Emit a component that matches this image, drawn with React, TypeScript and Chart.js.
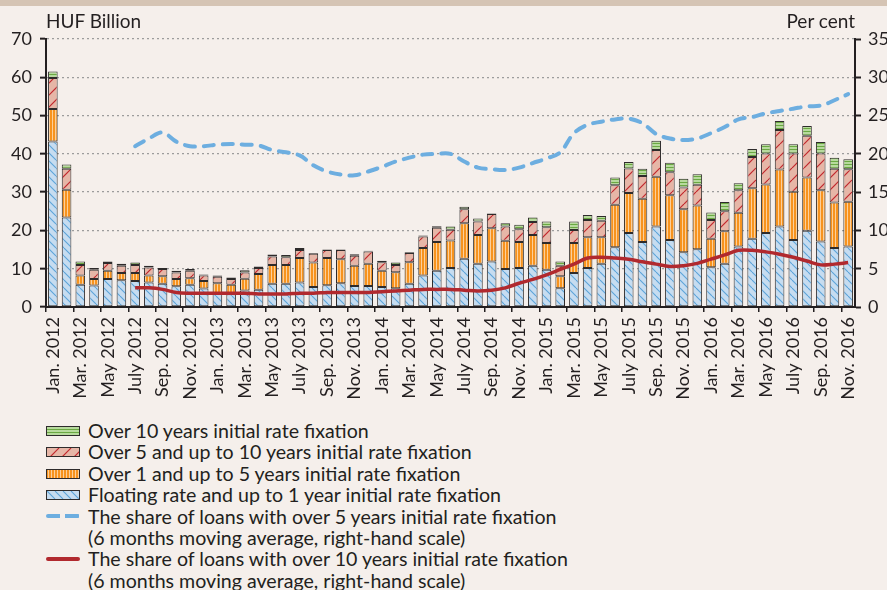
import React, { useEffect, useRef, useMemo } from 'react';
import { Chart, registerables } from 'chart.js';

Chart.register(...registerables);

const monthNames = ['Jan.', 'Feb.', 'Mar.', 'Apr.', 'May', 'June', 'July', 'Aug.', 'Sep.', 'Oct.', 'Nov.', 'Dec.'];
const years = [2012, 2013, 2014, 2015, 2016];
const categories = years.flatMap((y) => monthNames.map((m) => `${m} ${y}`)).slice(0, 59);

// HUF billion, stacked segments
const floating = [
  43.2, 23.4, 5.8, 5.6, 7.3, 7.0, 6.8, 6.4, 6.1, 5.4, 5.8, 4.8,
  3.6, 3.3, 4.3, 4.5, 6.1, 6.1, 6.4, 5.2, 5.7, 6.2, 5.5, 5.5,
  5.2, 4.9, 6.1, 8.2, 9.5, 10.2, 12.6, 11.3, 11.9, 9.9, 10.2, 10.8,
  9.7, 4.9, 8.9, 10.2, 11.3, 15.6, 19.3, 17.0, 21.0, 17.5, 14.3, 15.1,
  10.4, 11.3, 15.8, 17.8, 19.3, 21.0, 17.5, 19.9, 17.1, 15.4, 15.8,
];
const over1to5 = [
  8.5, 7.2, 2.4, 1.7, 2.2, 1.9, 2.1, 1.8, 1.9, 1.9, 1.7, 2.0,
  2.6, 2.5, 3.1, 4.1, 4.9, 4.9, 6.4, 6.4, 7.1, 6.3, 5.3, 5.8,
  4.3, 4.2, 5.6, 7.2, 7.5, 7.2, 9.3, 7.5, 8.7, 7.4, 6.8, 8.0,
  7.0, 3.1, 7.8, 8.0, 6.9, 11.1, 10.5, 11.3, 13.0, 11.7, 11.2, 11.4,
  7.4, 8.5, 8.8, 13.2, 12.7, 14.9, 12.6, 13.9, 13.4, 11.9, 11.7,
];
const over5to10 = [
  8.1, 5.5, 2.8, 2.4, 2.0, 1.9, 2.1, 2.1, 1.9, 1.7, 2.0, 1.4,
  1.7, 1.5, 1.6, 1.6, 2.2, 2.0, 2.1, 2.3, 2.1, 2.4, 2.6, 3.2,
  2.2, 1.9, 2.4, 3.0, 3.7, 2.8, 3.6, 3.5, 3.7, 3.7, 3.3, 3.4,
  4.1, 2.8, 3.4, 4.5, 4.3, 5.1, 6.4, 5.9, 7.0, 6.0, 5.7, 5.4,
  4.9, 5.2, 5.9, 8.2, 8.1, 10.3, 10.0, 10.9, 9.6, 8.8, 8.5,
];
const over10 = [
  1.7, 1.1, 0.9, 0.5, 0.4, 0.5, 0.6, 0.5, 0.3, 0.5, 0.4, 0.3,
  0.3, 0.4, 0.6, 0.4, 0.5, 0.6, 0.5, 0.2, 0.1, 0.1, 0.4, 0.2,
  0.4, 0.6, 0.2, 0.3, 0.4, 0.8, 0.7, 0.8, 0.1, 0.9, 1.2, 1.2,
  1.5, 1.1, 2.2, 1.3, 1.3, 2.0, 1.7, 1.9, 2.4, 2.5, 2.3, 2.8,
  2.0, 2.4, 1.8, 2.1, 2.4, 2.4, 2.4, 2.6, 3.0, 2.9, 2.6,
];
// Per cent, right-hand scale
const shareOver5 = [
  null, null, null, null, null, null, 21.0, 22.0, 22.8, 21.6, 21.0, 21.0,
  21.2, 21.3, 21.2, 21.1, 20.5, 20.2, 19.8, 18.5, 17.7, 17.3, 17.2, 17.7,
  18.3, 19.0, 19.5, 19.9, 20.0, 20.0, 19.0, 18.2, 18.0, 17.9, 18.2, 18.8,
  19.4, 20.2, 22.7, 23.8, 24.2, 24.5, 24.6, 24.0, 22.6, 22.0, 21.8, 22.0,
  22.7, 23.5, 24.5, 24.8, 25.3, 25.6, 25.9, 26.2, 26.3, 27.0, 27.8,
];
const shareOver10 = [
  null, null, null, null, null, null, 2.5, 2.5, 2.3, 1.9, 1.8, 1.8,
  1.8, 1.8, 1.8, 1.7, 1.7, 1.7, 1.8, 1.8, 1.9, 1.9, 1.9, 1.9,
  2.0, 2.1, 2.2, 2.3, 2.3, 2.3, 2.2, 2.1, 2.2, 2.5, 3.1, 3.6,
  4.2, 4.9, 5.6, 6.4, 6.5, 6.4, 6.25, 5.9, 5.6, 5.3, 5.4, 5.7,
  6.25, 6.8, 7.4, 7.4, 7.2, 6.9, 6.5, 6.0, 5.5, 5.6, 5.8,
];

const seriesNames = [
  'Over 10 years initial rate fixation',
  'Over 5 and up to 10 years initial rate fixation',
  'Over 1 and up to 5 years initial rate fixation',
  'Floating rate and up to 1 year initial rate fixation',
];
const lineNames = [
  ['The share of loans with over 5 years initial rate fixation', '(6 months moving average, right-hand scale)'],
  ['The share of loans with over 10 years initial rate fixation', '(6 months moving average, right-hand scale)'],
];

const TEXT = '#231f20';
const FONT = 'Lato';

function makeTile(kind: string): HTMLCanvasElement {
  const c = document.createElement('canvas');
  const ctx = c.getContext('2d')!;
  if (kind === 'blue') {
    c.width = 8; c.height = 8;
    ctx.fillStyle = '#c6dcf0';
    ctx.fillRect(0, 0, 8, 8);
    ctx.strokeStyle = '#5ba3d9';
    ctx.lineWidth = 1.1;
    for (const k of [-8, 0, 8]) {
      ctx.beginPath(); ctx.moveTo(k, 0); ctx.lineTo(k + 8, 8); ctx.stroke();
    }
  } else if (kind === 'orange') {
    c.width = 3; c.height = 3;
    ctx.fillStyle = '#f7931e';
    ctx.fillRect(0, 0, 3, 3);
    ctx.fillStyle = '#fccf9a';
    ctx.fillRect(1, 0, 1, 3);
  } else if (kind === 'red') {
    c.width = 12; c.height = 12;
    ctx.fillStyle = '#e6b6a7';
    ctx.fillRect(0, 0, 12, 12);
    ctx.strokeStyle = '#c1272d';
    ctx.lineWidth = 1.2;
    for (const k of [-12, 0, 12]) {
      ctx.beginPath(); ctx.moveTo(k, 12); ctx.lineTo(k + 12, 0); ctx.stroke();
    }
  } else {
    c.width = 3; c.height = 3;
    ctx.fillStyle = '#b7da9d';
    ctx.fillRect(0, 0, 3, 3);
    ctx.fillStyle = '#6aa842';
    ctx.fillRect(0, 2, 3, 1);
  }
  return c;
}

export default function App() {
  const canvasRef = useRef<HTMLCanvasElement | null>(null);
  const tiles = useMemo(() => ({
    blue: makeTile('blue'),
    orange: makeTile('orange'),
    red: makeTile('red'),
    green: makeTile('green'),
  }), []);

  useEffect(() => {
    const canvas = canvasRef.current!;
    const ctx = canvas.getContext('2d')!;
    const pat = (t: HTMLCanvasElement) => ctx.createPattern(t, 'repeat')!;
    const barCommon = {
      type: 'bar' as const,
      yAxisID: 'y',
      borderColor: '#2e2b2b',
      borderWidth: 1,
      borderSkipped: false as const,
      barPercentage: 0.7,
      categoryPercentage: 1,
      order: 1,
    };
    const chart = new Chart(ctx, {
      type: 'bar',
      data: {
        labels: categories,
        datasets: [
          { ...barCommon, label: seriesNames[3], data: floating, backgroundColor: pat(tiles.blue) },
          { ...barCommon, label: seriesNames[2], data: over1to5, backgroundColor: pat(tiles.orange) },
          { ...barCommon, label: seriesNames[1], data: over5to10, backgroundColor: pat(tiles.red) },
          { ...barCommon, label: seriesNames[0], data: over10, backgroundColor: pat(tiles.green) },
          {
            type: 'line', label: lineNames[0][0], data: shareOver5, yAxisID: 'y1',
            borderColor: '#6daee0', borderWidth: 4, borderDash: [10, 9], borderCapStyle: 'round',
            pointRadius: 0, tension: 0.35, fill: false, order: 0,
          } as any,
          {
            type: 'line', label: lineNames[1][0], data: shareOver10, yAxisID: 'y1',
            borderColor: '#b1292e', borderWidth: 3.5,
            pointRadius: 0, tension: 0.35, fill: false, order: 0,
          } as any,
        ],
      },
      options: {
        responsive: false,
        animation: false,
        devicePixelRatio: 1,
        layout: { padding: { top: 39, left: 0, right: 0, bottom: 0 } },
        plugins: { legend: { display: false }, tooltip: { enabled: false } },
        scales: {
          x: {
            stacked: true,
            afterFit: (s: any) => { s.height = 103; },
            grid: {
              offset: true,
              drawOnChartArea: false,
              drawTicks: true,
              tickLength: 5,
              color: (c: any) => (c.index % 2 === 0 ? TEXT : 'rgba(0,0,0,0)'),
              lineWidth: 1.5,
            },
            border: { display: true, color: TEXT, width: 2 },
            ticks: {
              autoSkip: false,
              minRotation: 90,
              maxRotation: 90,
              padding: 5,
              color: TEXT,
              font: { family: FONT, size: 18 },
              callback: (_v: any, i: number) => (i % 2 === 0 ? categories[i] : ''),
            },
          },
          y: {
            stacked: true,
            position: 'left',
            min: 0,
            max: 70,
            afterFit: (s: any) => { s.width = 46; },
            grid: {
              color: '#9c9c9c',
              lineWidth: 1.3,
              tickColor: TEXT,
              tickLength: 6,
              tickWidth: 2,
            },
            border: { display: true, color: TEXT, width: 2, dash: [2, 3] },
            ticks: { stepSize: 10, padding: 8, color: TEXT, font: { family: FONT, size: 18 } },
          },
          y1: {
            position: 'right',
            min: 0,
            max: 35,
            afterFit: (s: any) => { s.width = 32; },
            grid: {
              drawOnChartArea: false,
              tickColor: TEXT,
              tickLength: 6,
              tickWidth: 2,
            },
            border: { display: true, color: TEXT, width: 2 },
            ticks: { stepSize: 5, padding: 7, color: TEXT, font: { family: FONT, size: 18 } },
          },
        },
      } as any,
    });
    return () => chart.destroy();
  }, [tiles]);

  const swatch = (t: HTMLCanvasElement) => ({
    position: 'absolute' as const,
    left: 46,
    top: 5.7,
    width: 34,
    height: 10,
    boxSizing: 'border-box' as const,
    border: '1px solid #2e2b2b',
    backgroundImage: `url(${t.toDataURL()})`,
  });

  const legendBars = [
    { name: seriesNames[0], tile: tiles.green },
    { name: seriesNames[1], tile: tiles.red },
    { name: seriesNames[2], tile: tiles.orange },
    { name: seriesNames[3], tile: tiles.blue },
  ];

  return (
    <div style={{ position: 'fixed', left: 0, top: 0, width: 887, height: 590, background: '#f5efeb', overflow: 'hidden', fontFamily: FONT, color: TEXT }}>
      <div style={{ position: 'absolute', left: 0, top: 0, width: 887, height: 6, background: '#d5c4b4' }} />
      <canvas ref={canvasRef} width={887} height={410} style={{ position: 'absolute', left: 0, top: 0, width: 887, height: 410 }} />
      <div style={{ position: 'absolute', left: 46, top: 11, fontSize: 19, lineHeight: '19px', whiteSpace: 'nowrap' }}>HUF Billion</div>
      <div style={{ position: 'absolute', right: 32, top: 11, fontSize: 19, lineHeight: '19px', whiteSpace: 'nowrap', textAlign: 'right' }}>Per cent</div>
      <div style={{ position: 'absolute', left: 0, top: 420, width: 887, fontSize: 19.6, lineHeight: '21.4px' }}>
        {legendBars.map((it) => (
          <div key={it.name} style={{ position: 'relative', paddingLeft: 88, whiteSpace: 'nowrap' }}>
            <span style={swatch(it.tile)} />
            {it.name}
          </div>
        ))}
        <div style={{ position: 'relative', paddingLeft: 88, whiteSpace: 'nowrap' }}>
          <span style={{ position: 'absolute', left: 46, top: 8.7, width: 34, height: 4, background: 'repeating-linear-gradient(90deg, #6daee0 0 14px, transparent 14px 19px)', borderRadius: 2 }} />
          {lineNames[0][0]}<br />{lineNames[0][1]}
        </div>
        <div style={{ position: 'relative', paddingLeft: 88, whiteSpace: 'nowrap' }}>
          <span style={{ position: 'absolute', left: 46, top: 8.7, width: 34, height: 4, background: '#b1292e', borderRadius: 2 }} />
          {lineNames[1][0]}<br />{lineNames[1][1]}
        </div>
      </div>
    </div>
  );
}
